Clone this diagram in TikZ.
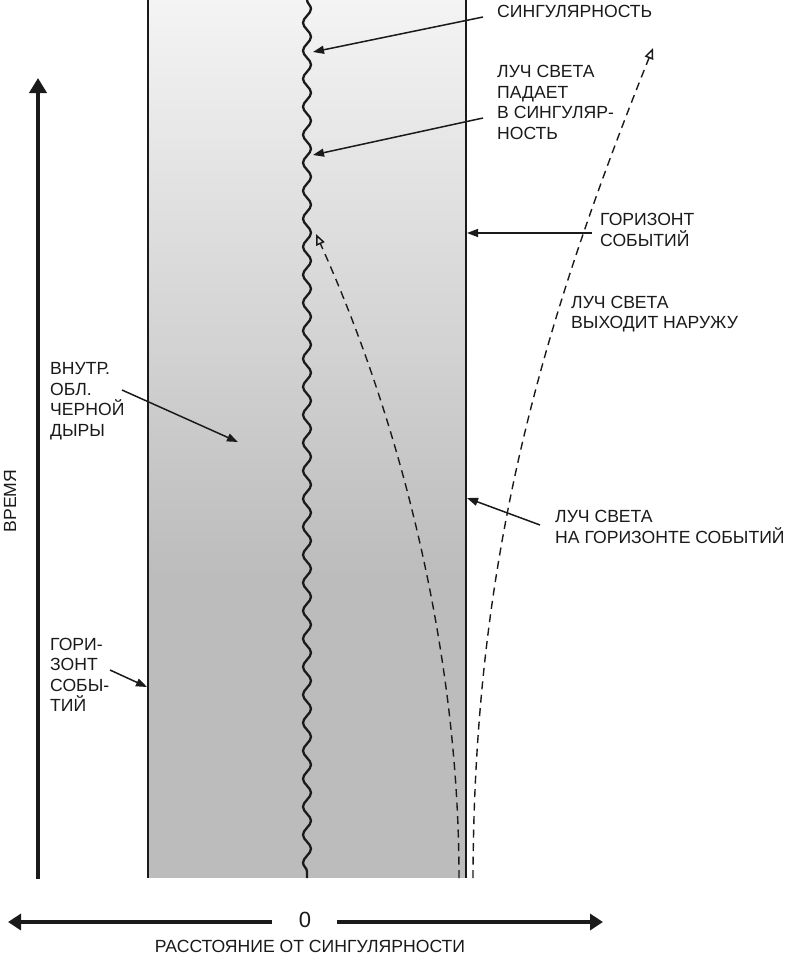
\documentclass[tikz,border=0pt]{standalone}
\usepackage{fontspec}
\setmainfont{Liberation Sans}
\usetikzlibrary{arrows.meta,decorations.pathmorphing}
\definecolor{ink}{HTML}{1A1A1A}
\definecolor{shadetop}{HTML}{F4F4F4}
\definecolor{shadebot}{HTML}{BCBCBC}
\begin{document}
\begin{tikzpicture}[x=1pt,y=-1pt,
  lbl/.style={font=\fontsize{17.6}{20.5}\selectfont, text=ink, align=left, inner sep=0pt, anchor=west},
  ptr/.style={draw=ink, line width=1.5pt, -{Triangle[length=11pt,width=8pt]}},
  ray/.style={draw=ink, line width=1.4pt, dash pattern=on 8pt off 5.5pt, -{Triangle[open,length=11pt,width=9pt,line width=1.5pt]}},
  axis/.style={draw=ink, line width=3.8pt},
  edge/.style={draw=ink, line width=1.2pt},
]
\fill[white] (0,0) rectangle (790,958);
\useasboundingbox (0,0) rectangle (790,958);

% black hole interior
\shade[top color=shadetop, bottom color=shadebot] (148,0) rectangle (466,576);
\fill[shadebot] (148,575) rectangle (466,878);
\coordinate (hl0) at (148,0); \coordinate (hl1) at (148,878);
\coordinate (hr0) at (466,0); \coordinate (hr1) at (466,878);
\draw[edge] (hl0) -- (hl1);
\draw[edge] (hr0) -- (hr1);

% singularity
\coordinate (s0) at (307,0); \coordinate (s1) at (307,878);
\draw[ink, line width=2.3pt, decorate, decoration={snake, segment length=28pt, amplitude=4pt}] (s0) -- (s1);

% time axis
\coordinate (t0) at (38,879); \coordinate (t1) at (38,78);
\draw[axis, -{Triangle[length=15pt,width=17pt]}] (t0) -- (t1);
\node[font=\fontsize{17.6}{20}\selectfont, text=ink, rotate=90, inner sep=0pt] (time) at (10,501) {ВРЕМЯ};

% distance axis
\node[font=\fontsize{22}{24}\selectfont, text=ink, inner sep=0pt] (zero) at (305,920) {0};
\coordinate (al) at (272,922); \coordinate (ale) at (8,922);
\coordinate (ar) at (337,922); \coordinate (are) at (603,922);
\draw[axis, -{Triangle[length=13pt,width=16pt]}] (al) -- (ale);
\draw[axis, -{Triangle[length=13pt,width=16pt]}] (ar) -- (are);
\node[font=\fontsize{17.6}{20}\selectfont, text=ink, inner sep=0pt] (dist) at (310,946) {РАССТОЯНИЕ ОТ СИНГУЛЯРНОСТИ};

% labels
\node[lbl] (sing) at (497,11) {СИНГУЛЯРНОСТЬ};
\node[lbl] (fall) at (497,102.5) {ЛУЧ СВЕТА\\ПАДАЕТ\\В СИНГУЛЯР-\\НОСТЬ};
\node[lbl] (hor) at (600,230) {ГОРИЗОНТ\\СОБЫТИЙ};
\node[lbl] (out) at (571,314) {ЛУЧ СВЕТА\\ВЫХОДИТ НАРУЖУ};
\node[lbl] (onh) at (555,527) {ЛУЧ СВЕТА\\НА ГОРИЗОНТЕ СОБЫТИЙ};
\node[lbl] (inner) at (50,401) {ВНУТР.\\ОБЛ.\\ЧЕРНОЙ\\ДЫРЫ};
\node[lbl] (horl) at (50,675) {ГОРИ-\\ЗОНТ\\СОБЫ-\\ТИЙ};

% pointers
\coordinate (p1s) at (483,17);  \coordinate (p1e) at (313,52);
\coordinate (p2s) at (483,118); \coordinate (p2e) at (313,155);
\coordinate (p3s) at (592,233); \coordinate (p3e) at (467,233);
\coordinate (p4s) at (540,525); \coordinate (p4e) at (467,498);
\coordinate (p5s) at (122,390); \coordinate (p5e) at (238,442);
\coordinate (p6s) at (110,670); \coordinate (p6e) at (147,687);
\draw[ptr] (p1s) -- (p1e);
\draw[ptr] (p2s) -- (p2e);
\draw[ptr] (p3s) -- (p3e);
\draw[ptr] (p4s) -- (p4e);
\draw[ptr] (p5s) -- (p5e);
\draw[ptr] (p6s) -- (p6e);

% light rays
\coordinate (r1s) at (459,878); \coordinate (r1e) at (316,234);
\draw[ray] (r1s) .. controls (459,650) and (400,420) .. (r1e);
\coordinate (r2s) at (473,878); \coordinate (r2e) at (653,48);
\draw[ray] (r2s) .. controls (474,560) and (540,330) .. (r2e);
\end{tikzpicture}
\end{document}
